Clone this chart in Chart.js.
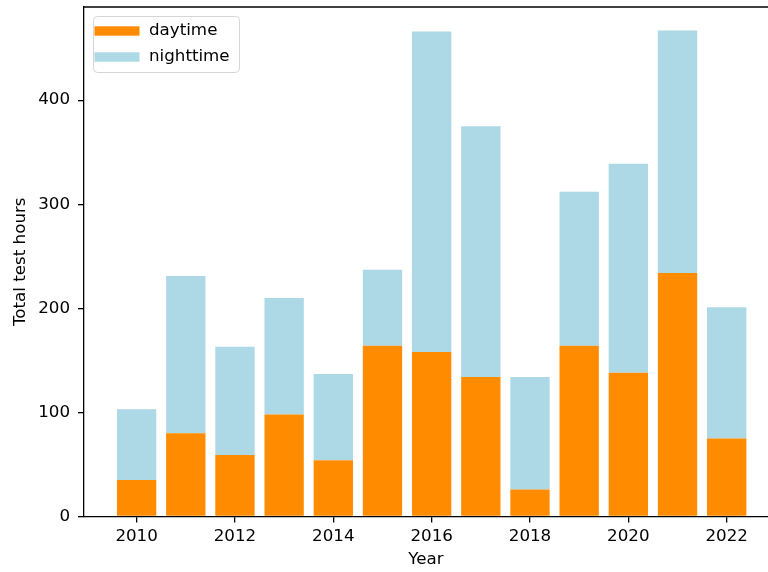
<!DOCTYPE html>
<html>
<head>
<meta charset="utf-8">
<title>Total test hours</title>
<script src="https://cdn.jsdelivr.net/npm/chart.js@4.4.1/dist/chart.umd.min.js"></script>
<style>
	html, body { margin: 0; padding: 0; background: #fff; overflow: hidden; }
	#wrap { width: 768px; height: 572px; position: relative; }
</style>
</head>
<body>
<div id="wrap"><canvas id="testHoursChart" width="768" height="572"></canvas></div>
<script>
	'use strict';

	// Data
	const years = [2010, 2011, 2012, 2013, 2014, 2015, 2016, 2017, 2018, 2019, 2020, 2021, 2022];
	const daytimeHours = [35, 80, 59, 98, 54, 164, 158, 134, 26, 164, 138, 234, 75];
	const nighttimeHours = [68, 151, 104, 112, 83, 73, 308, 241, 108, 148, 201, 233, 126];
	const xTickYears = [2010, 2012, 2014, 2016, 2018, 2020, 2022];
	const yTickValues = [0, 100, 200, 300, 400];

	const FONT = { family: 'DejaVu Sans', size: 16.7 };
	const INK = '#000';

	/**
	 * Top spine and matplotlib-style legend box
	 */
	const frameAndLegend = {
		id: 'frameAndLegend',
		afterDraw: function(chart) {
			const ctx = chart.ctx;
			const a = chart.chartArea;

			ctx.save();

			// top spine
			ctx.strokeStyle = INK;
			ctx.lineWidth = 1.3;
			ctx.beginPath();
			ctx.moveTo(a.left, a.top);
			ctx.lineTo(a.right, a.top);
			ctx.stroke();

			// legend frame
			const x = a.left + 9.5, y = a.top + 9.5, w = 146, h = 56, r = 4;
			ctx.beginPath();
			ctx.roundRect(x, y, w, h, r);
			ctx.fillStyle = 'rgba(255,255,255,0.8)';
			ctx.fill();
			ctx.strokeStyle = 'rgba(204,204,204,0.8)';
			ctx.lineWidth = 1;
			ctx.stroke();

			// legend entries
			ctx.font = FONT.size + 'px "' + FONT.family + '"';
			ctx.textBaseline = 'middle';
			ctx.textAlign = 'left';
			chart.data.datasets.forEach(function(ds, i) {
				const cy = y + 14.5 + i * 26;
				ctx.fillStyle = ds.backgroundColor;
				ctx.fillRect(x + 1, cy - 4.7, 45, 9.4);
				ctx.fillStyle = INK;
				ctx.fillText(ds.label, x + 55.5, cy);
			});

			ctx.restore();
		}
	};

	const toPoints = function(values) {
		return years.map(function(yr, i) {
			return { x: yr, y: values[i] };
		});
	};

	const ctx = document.getElementById('testHoursChart');

	new Chart(ctx, {
		type: 'bar',
		data: {
			datasets: [{
				label: 'daytime',
				data: toPoints(daytimeHours),
				backgroundColor: '#ff8c00',
				borderWidth: 0,
				barPercentage: 1,
				categoryPercentage: 0.8
			}, {
				label: 'nighttime',
				data: toPoints(nighttimeHours),
				backgroundColor: '#add8e6',
				borderWidth: 0,
				barPercentage: 1,
				categoryPercentage: 0.8
			}]
		},
		options: {
			responsive: false,
			animation: false,
			devicePixelRatio: 1,
			layout: {
				padding: { top: 7, right: 0, left: 0, bottom: 0 }
			},
			plugins: {
				legend: { display: false },
				tooltip: { enabled: false }
			},
			scales: {
				x: {
					type: 'linear',
					stacked: true,
					offset: false,
					min: 2008.93,
					max: 2022.84,
					afterBuildTicks: function(scale) {
						scale.ticks = xTickYears.map(function(v) { return { value: v }; });
					},
					afterFit: function(scale) {
						scale.height = 55.5;
						scale.paddingLeft = 0;
						scale.paddingRight = 0;
					},
					ticks: {
						color: INK,
						font: FONT,
						padding: 4,
						maxRotation: 0,
						callback: function(v) { return String(v); }
					},
					grid: {
						offset: false,
						drawOnChartArea: false,
						drawTicks: true,
						tickLength: 6,
						tickWidth: 1.3,
						tickColor: INK,
						lineWidth: 1.3,
						color: INK
					},
					border: { display: true, color: INK, width: 1.3 },
					title: {
						display: true,
						text: 'Year',
						color: INK,
						font: FONT,
						padding: { top: 0, bottom: 2 }
					}
				},
				y: {
					stacked: true,
					min: 0,
					max: 489.5,
					afterBuildTicks: function(scale) {
						scale.ticks = yTickValues.map(function(v) { return { value: v }; });
					},
					afterFit: function(scale) {
						scale.width = 84;
						scale.paddingTop = 0;
						scale.paddingBottom = 0;
					},
					ticks: {
						color: INK,
						font: FONT,
						padding: 8
					},
					grid: {
						drawOnChartArea: false,
						drawTicks: true,
						tickLength: 6,
						tickWidth: 1.3,
						tickColor: INK,
						lineWidth: 1.3,
						color: INK
					},
					border: { display: true, color: INK, width: 1.3 },
					title: {
						display: true,
						text: 'Total test hours',
						color: INK,
						font: FONT,
						padding: { top: 11, bottom: 0 }
					}
				}
			}
		},
		plugins: [frameAndLegend]
	});
</script>
</body>
</html>
